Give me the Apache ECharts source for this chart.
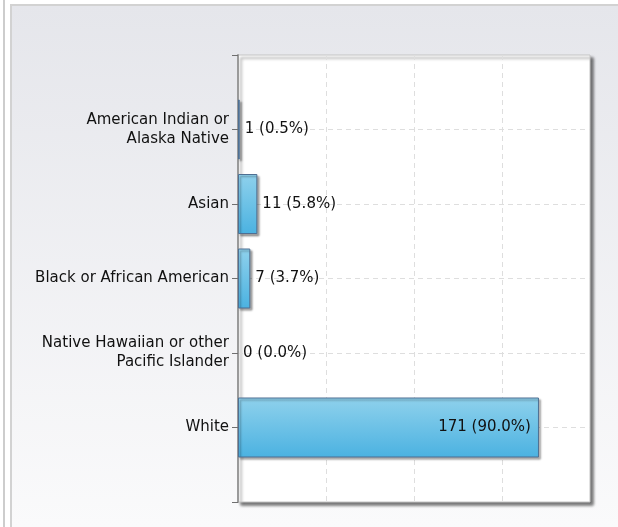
<!DOCTYPE html>
<html><head><meta charset="utf-8">
<script src="https://cdn.jsdelivr.net/npm/echarts/dist/echarts.min.js"></script>
<style>
html,body{margin:0;padding:0;background:#fff;width:618px;height:527px;overflow:hidden}
#rule{position:absolute;left:3px;top:0;width:2px;height:527px;background:#cdcdcd}
#panel{position:absolute;left:10px;top:4px;width:640px;height:560px;border-left:2px solid #d2d2d2;border-top:2px solid #d2d2d2;background:linear-gradient(#e5e6eb,#fafafb 520px)}
#chart{position:absolute;left:0;top:0;width:618px;height:527px}
</style></head><body>
<div id="rule"></div><div id="panel"></div><div id="chart"></div>
<script>
const categories = [
  "American Indian or\nAlaska Native",
  "Asian",
  "Black or African American",
  "Native Hawaiian or other\nPacific Islander",
  "White"
];
const counts = [1, 11, 7, 0, 171];
const percents = [0.5, 5.8, 3.7, 0.0, 90.0];
const xMin = 0, xMax = 200, xInterval = 50;

const axisData = [''].concat(categories, ['']);
const maxVal = Math.max.apply(null, counts);
const items = counts.map((v, i) => {
  const it = { value: v };
  if (v === maxVal) it.label = { position: 'insideRight', distance: 8 };
  if (v === 0) it.itemStyle = { borderWidth: 0, shadowColor: 'transparent' };
  return it;
});
const seriesData = ['-'].concat(items, ['-']);

const chart = echarts.init(document.getElementById('chart'), null, { renderer: 'canvas' });
chart.setOption({
  backgroundColor: 'transparent',
  animation: false,
  textStyle: { fontFamily: 'DejaVu Sans' },
  grid: {
    left: 238, top: 55, right: 28, bottom: 25,
    show: true, backgroundColor: '#ffffff',
    borderColor: '#c4c4c4', borderWidth: 1,
    shadowColor: 'rgba(0,0,0,0.55)', shadowBlur: 3, shadowOffsetX: 3, shadowOffsetY: 3
  },
  xAxis: {
    type: 'value', min: xMin, max: xMax, interval: xInterval,
    axisLine: { show: false }, axisTick: { show: false }, axisLabel: { show: false },
    splitLine: { show: true, showMinLine: false, showMaxLine: false, lineStyle: { color: '#dedede', type: [5, 4], width: 1 } }
  },
  yAxis: {
    type: 'category', data: axisData, inverse: true, boundaryGap: false,
    axisLine: { show: true, lineStyle: { color: '#9a9a9a', width: 2 } },
    axisTick: { show: true, length: 6, lineStyle: { color: '#6f6f6f', width: 1 } },
    axisLabel: { margin: 9, color: '#111', fontSize: 15, lineHeight: 19, fontFamily: 'DejaVu Sans', interval: 0 },
    splitLine: { show: true, interval: (i) => i > 0 && i < axisData.length - 1, lineStyle: { color: '#dedede', type: [5, 4], width: 1 } }
  },
  series: [{
    type: 'bar',
    data: seriesData,
    barWidth: 60,
    itemStyle: {
      color: new echarts.graphic.LinearGradient(0, 0, 0, 1, [
        { offset: 0, color: '#8fd1ec' },
        { offset: 1, color: '#4bb2e1' }
      ]),
      borderColor: '#4f6f92', borderWidth: 1,
      shadowColor: 'rgba(0,0,0,0.35)', shadowBlur: 2, shadowOffsetX: 2, shadowOffsetY: 2
    },
    label: {
      show: true, position: 'right', distance: 5,
      color: '#111', fontSize: 15, fontFamily: 'DejaVu Sans',
      formatter: p => {
        const i = p.dataIndex - 1;
        return counts[i] + ' (' + percents[i].toFixed(1) + '%)';
      }
    }
  }]
});
</script>
</body></html>
